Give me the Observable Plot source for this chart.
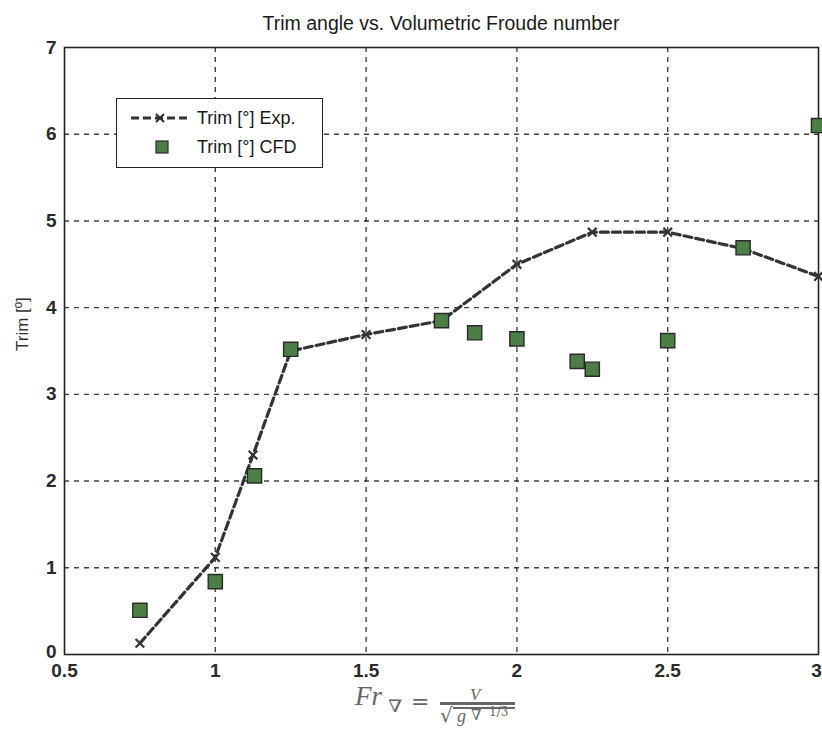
<!DOCTYPE html>
<html>
<head>
<meta charset="utf-8">
<script src="https://cdn.jsdelivr.net/npm/d3@7"></script>
<script src="https://cdn.jsdelivr.net/npm/@observablehq/plot@0.6"></script>
<style>
  body { margin: 0; background: #fff; }
  #wrap { position: relative; width: 822px; height: 729px; font-family: "Liberation Sans", Arial, sans-serif; color: #222; overflow: hidden; }
  #title { height: 40px; box-sizing: border-box; padding-top: 13px; padding-left: 64px; width: 818px; text-align: center; font-size: 19.5px; line-height: 20px; color: #1a1a1a; white-space: nowrap; }
  #legend { position: absolute; left: 116px; top: 98px; width: 207px; height: 70px; border: 1.6px solid #222; background: #fff; box-sizing: border-box; font-size: 18px; color: #1a1a1a; }
  #legend .row { position: absolute; height: 22px; line-height: 22px; white-space: nowrap; }
  #formula { position: absolute; left: 0; top: 0; width: 822px; height: 729px; pointer-events: none; font-family: "DejaVu Serif", "Liberation Serif", serif; color: #666; }
  #formula span { position: absolute; white-space: nowrap; line-height: normal; }
  #formula .it { font-style: italic; font-family: "Liberation Serif", serif; }
</style>
</head>
<body>
<div id="wrap">
  <div id="title">Trim angle vs. Volumetric Froude number</div>
  <div id="chart"></div>
  <div id="legend">
    <svg width="80" height="70" style="position:absolute;left:0;top:0">
      <line x1="14" y1="19" x2="73" y2="19" stroke="#333" stroke-width="3" stroke-dasharray="8,4"></line>
      <path d="M39,15 L47,23 M47,15 L39,23" stroke="#333" stroke-width="2.2"></path>
      <rect x="39" y="42" width="12" height="12" fill="#4b7f46" stroke="#2a2a2a" stroke-width="1.2"></rect>
    </svg>
    <div class="row" style="left:80px;top:8px">Trim [°] Exp.</div>
    <div class="row" style="left:80px;top:37px">Trim [°] CFD</div>
  </div>
  <div id="formula">
    <span class="it" style="left:355px;top:681px;font-size:27px">Fr</span>
    <span style="left:388px;top:696px;font-size:17px;transform:scaleX(1.2);transform-origin:0 0">∇</span>
    <span style="left:411px;top:689px;font-size:22px">=</span>
    <span class="it" style="left:470px;top:685px;font-size:17px">V</span>
    <span style="left:440px;top:702px;width:75px;height:3px;background:#666"></span>
    <span style="left:440px;top:703px;font-size:20px">√</span>
    <span style="left:453px;top:707px;width:62px;height:1.5px;background:#666"></span>
    <span class="it" style="left:457px;top:706px;font-size:18px">g</span>
    <span style="left:471px;top:706px;font-size:15px">∇</span>
    <span style="left:489px;top:705px;font-size:12px">1/3</span>
  </div>
</div>
<script>
// Experimental trim (dashed line with x markers)
const expFr   = [0.75, 1.0, 1.125, 1.25, 1.5, 1.75, 2.0, 2.25, 2.5, 2.75, 3.0];
const expTrim = [0.13, 1.12, 2.3, 3.5, 3.69, 3.85, 4.5, 4.87, 4.87, 4.68, 4.36];
// CFD trim (green squares)
const cfdFr   = [0.75, 1.0, 1.13, 1.25, 1.75, 1.86, 2.0, 2.2, 2.25, 2.5, 2.75, 3.0];
const cfdTrim = [0.51, 0.84, 2.06, 3.52, 3.85, 3.71, 3.64, 3.38, 3.29, 3.62, 4.69, 6.1];
const xTicks = [0.5, 1, 1.5, 2, 2.5, 3];
const yTicks = [0, 1, 2, 3, 4, 5, 6, 7];
const yLabel = "Trim [º]";

const exp = expFr.map((x, i) => ({x, y: expTrim[i]}));
const cfd = cfdFr.map((x, i) => ({x, y: cfdTrim[i]}));
const fmt = d => String(d);
const tickStyle = {tickSize: 0, tickPadding: 8, tickFormat: fmt, fontWeight: "bold", fontSize: 19, label: null};

const plot = Plot.plot({
  width: 822,
  height: 689,
  marginLeft: 64,
  marginRight: 4,
  marginTop: 7,
  marginBottom: 75,
  style: {fontFamily: "Liberation Sans, Arial, sans-serif", color: "#2a2a2a", overflow: "visible"},
  x: {domain: [0.5, 3], label: null},
  y: {domain: [0, 7], label: null},
  marks: [
    Plot.gridX(xTicks.slice(1, -1), {stroke: "#222", strokeOpacity: 0.85, strokeWidth: 1.4, strokeDasharray: "5,5"}),
    Plot.gridY(yTicks.slice(1, -1), {stroke: "#222", strokeOpacity: 0.85, strokeWidth: 1.4, strokeDasharray: "5,5"}),
    Plot.axisX(xTicks.slice(0, -1), {...tickStyle, tickPadding: 9}),
    Plot.axisX(xTicks.slice(-1), {...tickStyle, tickPadding: 9, dx: -2}),
    Plot.axisY(yTicks.slice(0, 1), {...tickStyle, dy: -3}),
    Plot.axisY(yTicks.slice(1), tickStyle),
    Plot.frame({stroke: "#222", strokeWidth: 1.6}),
    Plot.line(exp, {x: "x", y: "y", stroke: "#333", strokeWidth: 3.2, strokeDasharray: "8,4"}),
    Plot.dot(exp, {x: "x", y: "y", symbol: "times", r: 4, stroke: "#333", strokeWidth: 2.2}),
    Plot.dot(cfd, {x: "x", y: "y", symbol: "square", r: 8, fill: "#4b7f46", stroke: "#2a2a2a", strokeWidth: 1.4}),
    Plot.text([yLabel], {frameAnchor: "left", dx: -42, rotate: -90, fontSize: 17, fontWeight: "normal", fill: "#333"})
  ]
});
document.getElementById("chart").appendChild(plot);
</script>
</body>
</html>
